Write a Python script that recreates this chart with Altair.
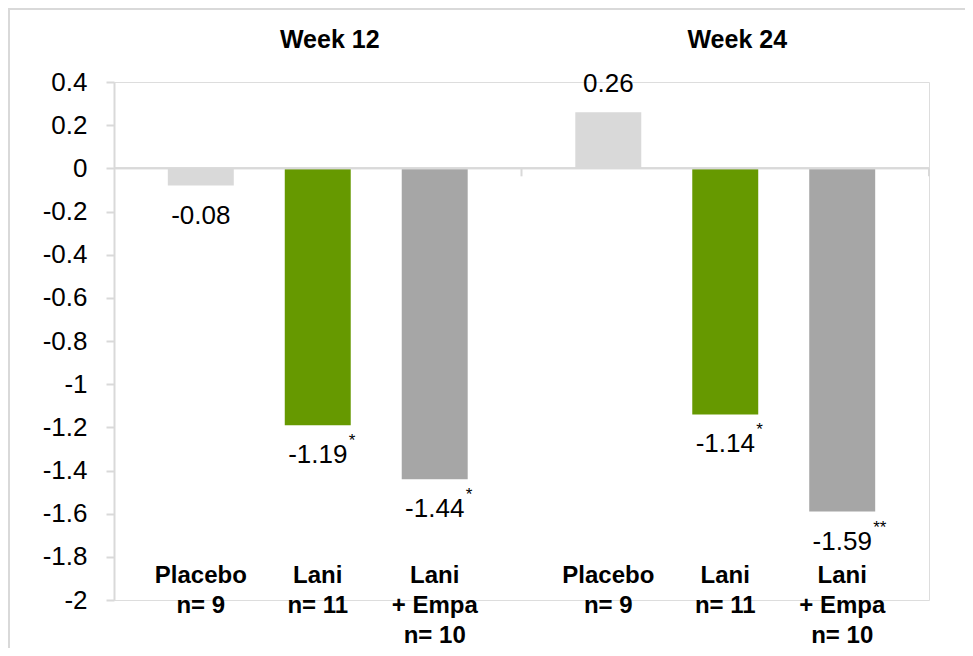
import altair as alt
import pandas as pd

# ---- data ----
weeks = ["Week 12", "Week 24"]
treatments = ["Placebo", "Lani", "Lani + Empa"]
values_week12 = [-0.08, -1.19, -1.44]
values_week24 = [0.26, -1.14, -1.59]
stars_week12 = ["", "*", "*"]
stars_week24 = ["", "*", "**"]
category_labels = ["Placebo\nn= 9", "Lani\nn= 11", "Lani\n+ Empa\nn= 10"]
y_ticks = [0.4, 0.2, 0, -0.2, -0.4, -0.6, -0.8, -1, -1.2, -1.4, -1.6, -1.8, -2]
bar_colors = ["#D9D9D9", "#669900", "#A6A6A6"]

rows = []
for w, vals, stars in [(weeks[0], values_week12, stars_week12),
                       (weeks[1], values_week24, stars_week24)]:
    for t, v, s, c in zip(treatments, vals, stars, category_labels):
        rows.append({"week": w, "treatment": t, "value": v,
                     "label": f"{v:.2f}", "star": s, "cat": c})
df = pd.DataFrame(rows)
df_weeks = pd.DataFrame({"week": weeks})

FONT = "Liberation Sans"
GRID = "#D9D9D9"

x_scale = alt.Scale(domain=weeks, paddingInner=0, paddingOuter=0)
x_axis = alt.Axis(orient="top", title=None, domain=False, ticks=False, tickSize=0,
                  labelFontSize=25, labelFontWeight="bold", labelColor="black",
                  labelFont=FONT, labelPadding=30, labelOffset=12, labelAngle=0)
X = alt.X("week:N", scale=x_scale, axis=x_axis, sort=weeks)
XO = alt.XOffset("treatment:N", sort=treatments,
                 scale=alt.Scale(domain=treatments, paddingInner=0.436, paddingOuter=0.46))
y_scale = alt.Scale(domain=[-2, 0.4], nice=False, zero=False)
Y = alt.Y("value:Q", scale=y_scale,
          axis=alt.Axis(title=None, values=y_ticks, grid=False,
                        domainColor=GRID, domainWidth=2,
                        tickColor=GRID, tickWidth=2, tickSize=8,
                        labelFontSize=26, labelFont=FONT, labelColor="black",
                        labelPadding=19,
                        labelExpr="toString(datum.value)"))

base = alt.Chart(df)

bars = base.mark_bar().encode(
    x=X, xOffset=XO, y=Y, y2=alt.datum(0),
    color=alt.Color("treatment:N", sort=treatments,
                    scale=alt.Scale(domain=treatments, range=bar_colors), legend=None),
)

zero_line = alt.Chart(df_weeks).mark_rule(color=GRID, strokeWidth=2).encode(
    y=alt.datum(0, scale=y_scale)
)

group_ticks = alt.Chart(df_weeks).mark_rule(color=GRID, strokeWidth=2, y2Offset=8).encode(
    x=alt.X("week:N", scale=x_scale, axis=x_axis, sort=weeks, bandPosition=1),
    y=alt.datum(0), y2=alt.datum(0),
)

neg_labels = base.transform_filter("datum.value < 0").mark_text(
    font=FONT, fontSize=26, color="black", baseline="middle", dy=30
).encode(x=X, xOffset=XO, y=Y, text="label:N")

pos_labels = base.transform_filter("datum.value >= 0").mark_text(
    font=FONT, fontSize=26, color="black", baseline="middle", dy=-28
).encode(x=X, xOffset=XO, y=Y, text="label:N")

star_labels = base.transform_filter("datum.star != ''").mark_text(
    font=FONT, fontSize=17, color="black", baseline="middle", align="left", dx=31, dy=16
).encode(x=X, xOffset=XO, y=Y, text="star:N")

cat_labels = base.mark_text(
    font=FONT, fontSize=24, fontWeight="bold", color="black", baseline="top",
    align="center", lineBreak="\n", lineHeight=30
).encode(x=X, xOffset=XO, y=alt.value(482), text="cat:N")

frame = alt.Chart(df_weeks.head(1)).mark_rect(
    fill=None, stroke=GRID, strokeWidth=2
).encode(x=alt.value(-105), x2=alt.value(900), y=alt.value(-73), y2=alt.value(620))

chart = alt.layer(
    frame, bars, zero_line, group_ticks, neg_labels, pos_labels, star_labels, cat_labels
).properties(
    width=815, height=518,
    autosize=alt.AutoSizeParams(type="none"),
    padding={"left": 106, "top": 74, "right": 36, "bottom": 48},
).configure_view(strokeWidth=0).configure(background="white")

chart.save("out.html", embed_options={"renderer": "svg", "actions": False})
